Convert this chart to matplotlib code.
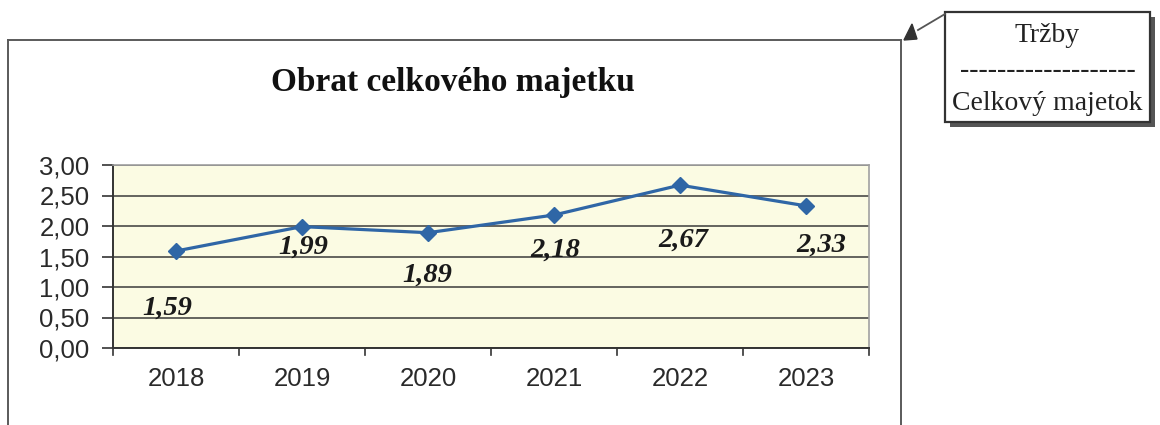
import matplotlib.pyplot as plt
from matplotlib.patches import Rectangle, Polygon
from matplotlib.lines import Line2D

years = ['2018', '2019', '2020', '2021', '2022', '2023']
values = [1.59, 1.99, 1.89, 2.18, 2.67, 2.33]
labels = ['1,59', '1,99', '1,89', '2,18', '2,67', '2,33']
yticks = [0.0, 0.5, 1.0, 1.5, 2.0, 2.5, 3.0]
title = 'Obrat celkového majetku'
box_lines = ['Tržby', '-------------------', 'Celkový majetok']

# label offsets from the marker, in pixels (dx, dy down)
lab_off = [(-9, 57), (1, 21), (-1, 42), (1, 35), (3, 55), (15, 39)]

W, H = 1160, 425
fig = plt.figure(figsize=(W / 100, H / 100), dpi=100)

def fx(px):
    return px / W

def fy(py):
    return 1 - py / H

# outer chart frame
fcol = '#5a5a5a'
fig.add_artist(Line2D([fx(8), fx(8)], [fy(40), 0], color=fcol, lw=1.4))
fig.add_artist(Line2D([fx(8), fx(901)], [fy(40), fy(40)], color=fcol, lw=1.4))
fig.add_artist(Line2D([fx(901), fx(901)], [fy(40), 0], color=fcol, lw=1.4))

fig.text(fx(453), fy(82), title, ha='center', va='center', fontsize=24,
         fontweight='bold', family='Liberation Serif', color='#111111')

ax = fig.add_axes([fx(113), fy(348), fx(869) - fx(113), fy(165) - fy(348)])
ax.set_facecolor('#fbfbe3')
x = range(len(years))
ax.plot(x, values, color='#2f66a6', lw=2.3, marker='D', markersize=8,
        markerfacecolor='#2f66a6', markeredgecolor='#2f66a6', zorder=3)
ax.set_xlim(-0.5, len(years) - 0.5)
ax.set_ylim(0, 3)
ax.set_yticks(yticks)
ax.set_yticklabels([f'{t:.2f}'.replace('.', ',') for t in yticks])
ax.set_xticks(x)
ax.set_xticklabels(years)
ax.grid(axis='y', color='#3a3a3a', lw=1.1)
ax.set_axisbelow(True)
for s in ['top', 'right']:
    ax.spines[s].set_color('#a0a0a0')
    ax.spines[s].set_linewidth(1.2)
for s in ['left', 'bottom']:
    ax.spines[s].set_color('#333333')
    ax.spines[s].set_linewidth(1.4)
ax.tick_params(axis='y', length=8, width=1.2, color='#333333', pad=9,
               labelsize=18.5, labelcolor='#2a2a2a')
ax.tick_params(axis='x', length=0, pad=14, labelsize=18.5, labelcolor='#2a2a2a')
for lab in ax.get_xticklabels() + ax.get_yticklabels():
    lab.set_family('Liberation Sans')
# x-axis tick marks between categories
for b in range(len(years) + 1):
    ax.plot([b - 0.5, b - 0.5], [0, -0.12], color='#333333', lw=1.2,
            clip_on=False)

for xi, v, lab, (dx, dy) in zip(x, values, labels, lab_off):
    ax.annotate(lab, (xi, v), xytext=(dx, -dy), textcoords='offset pixels',
                ha='center', va='center', fontsize=20.5, fontweight='bold',
                fontstyle='italic', family='Liberation Serif', color='#1a1a1a')

# callout box with shadow
bx0, by0, bx1, by1 = 945, 12, 1150, 122
fig.add_artist(Rectangle((fx(bx0 + 5), fy(by1 + 5)), fx(bx1 - bx0), fy(by0) - fy(by1),
                         facecolor='#555555', edgecolor='none'))
fig.add_artist(Rectangle((fx(bx0), fy(by1)), fx(bx1 - bx0), fy(by0) - fy(by1),
                         facecolor='white', edgecolor='#333333', lw=1.6))
cx = (bx0 + bx1) / 2
for t, yy in zip(box_lines, [35, 70, 104]):
    fig.text(fx(cx), fy(yy), t, ha='center', va='center', fontsize=20,
             family='Liberation Serif', color='#222222')

# arrow to the chart corner
fig.add_artist(Line2D([fx(bx0), fx(918)], [fy(by0 + 2), fy(30)], color='#555555', lw=1.3))
fig.add_artist(Polygon([(fx(904), fy(40)), (fx(917), fy(39)), (fx(912), fy(24))],
                       closed=True, facecolor='#333333', edgecolor='#333333'))

fig.savefig('out.png', dpi=100)
